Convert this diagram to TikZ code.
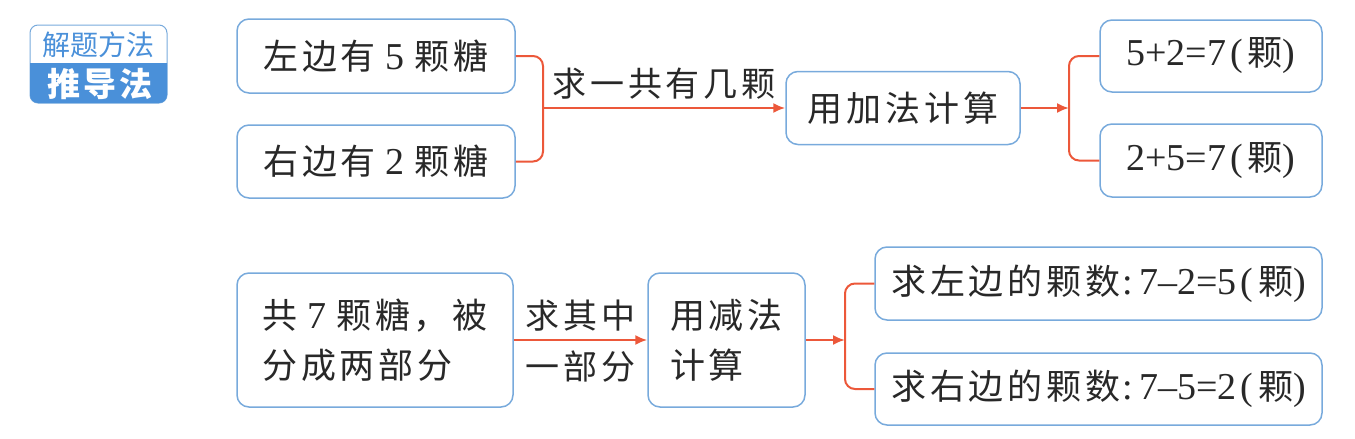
\documentclass[tikz,border=0pt]{standalone}
\usepackage{fontspec}
\setmainfont{Liberation Serif}
\newfontfamily\zhfont[LetterSpace=11]{Noto Sans CJK SC}
\newfontfamily\tagfont{Noto Sans CJK SC}
\newfontfamily\numfont{Liberation Serif}
\newcommand\sz[1]{{\numfont\fontsize{38}{40}\selectfont #1}}
\usetikzlibrary{arrows.meta}
\definecolor{boxblue}{RGB}{120,170,220}
\definecolor{linkred}{RGB}{236,88,58}
\definecolor{tagblue}{RGB}{74,144,217}
\definecolor{inkgray}{RGB}{40,40,40}

\begin{document}
\begin{tikzpicture}[
  x=1pt, y=-1pt, >={Latex[length=12pt,width=10pt]},
  box/.style={draw=boxblue, line width=1.5pt, rounded corners=12pt, fill=white, text=inkgray, inner sep=0pt, align=center, font=\zhfont\fontsize{35}{50}\selectfont},
  lbl/.style={text=inkgray, inner sep=0pt, font=\zhfont\fontsize{34}{36}\selectfont},
  link/.style={draw=linkred, line width=2pt, rounded corners=10pt},
]
\useasboundingbox (0,0) rectangle (1355,439);
\draw[boxblue, line width=1pt, rounded corners=8pt] (30,25) rectangle (167,103);
\begin{scope}
  \clip (0,63) rectangle (200,110);
  \fill[tagblue, rounded corners=8pt] (30,25) rectangle (167,103);
\end{scope}
\node[text=tagblue, font=\tagfont\fontsize{28}{30}\selectfont] (tagname) at (98.5,45) {解题方法};
\node[text=white, font=\tagfont\addfontfeature{LetterSpace=10}\fontsize{33}{34}\selectfont\bfseries] (tagway) at (100,84) {推导法};

\node[box, minimum width=278pt, minimum height=74pt] (left) at (376,56) {左边有\hspace{10pt}\sz{5}\hspace{10pt}颗糖};
\node[box, minimum width=278pt, minimum height=73pt] (right) at (376,161.5) {右边有\hspace{10pt}\sz{2}\hspace{10pt}颗糖};
\node[box, minimum width=234pt, minimum height=73pt] (add) at (903,108) {用加法计算};
\node[box, minimum width=222pt, minimum height=72pt] (sumA) at (1211,56) {\sz{5+2=7\hspace{4pt}(}\hspace{5pt}颗\sz{)}};
\node[box, minimum width=222pt, minimum height=73pt] (sumB) at (1211,160.5) {\sz{2+5=7\hspace{4pt}(}\hspace{5pt}颗\sz{)}};
\node[box, align=left, minimum width=276pt, minimum height=134pt] (total) at (375,340) {共\hspace{10pt}\sz{7}\hspace{10pt}颗糖，被\\分成两部分};
\node[box, align=left, minimum width=157pt, minimum height=134pt] (sub) at (726.5,340) {用减法\\计算};
\node[box, minimum width=447pt, minimum height=73pt] (diffA) at (1098.5,283.5) {求左边的颗数\sz{\hspace{2pt}:\hspace{6pt}7–2=5\hspace{4pt}(}\hspace{5pt}颗\sz{)}};
\node[box, minimum width=447pt, minimum height=72pt] (diffB) at (1098.5,389) {求右边的颗数\sz{\hspace{2pt}:\hspace{6pt}7–5=2\hspace{4pt}(}\hspace{5pt}颗\sz{)}};

\coordinate (join) at (543,108);
\coordinate (fork) at (1069,108);
\coordinate (forkB) at (845,340);
\draw[link] (left.east) -| (join) |- (right.east);
\draw[link, ->] (join) -- (add) node[lbl, midway, above=8pt] {求一共有几颗};
\draw[link, ->] (add) -- (fork);
\draw[link] (sumA.west) -| (fork) |- (sumB.west);
\draw[link, ->] (total) -- (sub) node[lbl, midway, above=8pt] {求其中} node[lbl, midway, below=10pt] {一部分};
\draw[link, ->] (sub) -- (forkB);
\draw[link] (diffA.west) -| (forkB) |- (diffB.west);
\end{tikzpicture}
\end{document}
